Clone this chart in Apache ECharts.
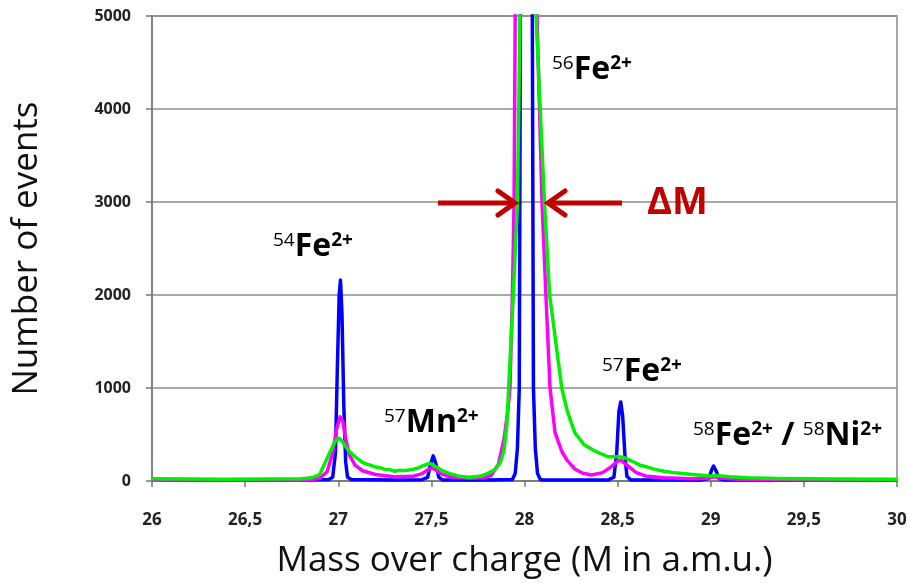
<!DOCTYPE html>
<html>
<head>
<meta charset="utf-8">
<script src="https://cdn.jsdelivr.net/npm/echarts@6/dist/echarts.min.js"></script>
<style>
html,body{margin:0;padding:0;background:#fff;}
#chart{width:909px;height:583px;}
</style>
</head>
<body>
<div id="chart"></div>
<script>
// ---- Data ----
const xTicks = [26, 26.5, 27, 27.5, 28, 28.5, 29, 29.5, 30];
const yTicks = [0, 1000, 2000, 3000, 4000, 5000];

const blueMass = [26.00,26.20,26.40,26.60,26.80,26.95,26.97,26.985,26.995,27.005,27.012,27.02,27.03,27.04,27.05,27.07,27.30,27.45,27.48,27.495,27.51,27.525,27.54,27.56,27.80,27.935,27.95,27.962,27.972,27.978,27.985,28.01,28.035,28.042,28.048,28.058,28.07,28.085,28.10,28.45,28.48,28.495,28.507,28.517,28.527,28.54,28.55,28.57,28.95,28.99,29.005,29.015,29.028,29.045,29.07,29.50,30.00];
const blueCounts = [15,12,14,12,14,15,40,300,1200,2000,2160,1800,800,200,40,15,12,14,40,180,270,180,40,12,12,15,80,350,1000,5000,12000,20000,12000,5000,1000,350,80,15,12,12,40,300,750,850,700,250,50,12,12,30,120,160,110,25,10,10,10];

const magentaMass = [26.00,26.30,26.60,26.85,26.90,26.94,26.97,26.99,27.01,27.025,27.04,27.06,27.09,27.13,27.20,27.30,27.40,27.45,27.48,27.50,27.52,27.55,27.60,27.70,27.78,27.82,27.86,27.89,27.91,27.922,27.935,27.944,27.95,27.96,28.00,28.05,28.067,28.094,28.115,28.137,28.164,28.20,28.228,28.27,28.31,28.36,28.42,28.47,28.50,28.52,28.55,28.60,28.65,28.75,28.90,28.98,29.02,29.06,29.15,29.30,29.60,30.00];
const magentaCounts = [12,10,12,14,30,100,300,550,690,640,450,280,170,110,70,45,50,80,120,140,125,80,45,30,35,60,180,450,750,1000,2000,3000,5000,8000,12000,8000,5000,3000,2000,1000,520,320,225,130,86,65,90,160,215,220,170,90,55,35,25,30,45,30,20,15,12,12];

const greenMass = [26.00,26.01,26.03,26.20,26.40,26.60,26.80,26.86,26.90,26.93,26.96,26.985,27.005,27.02,27.05,27.08,27.10,27.13,27.15,27.18,27.20,27.23,27.25,27.28,27.30,27.33,27.35,27.38,27.40,27.43,27.45,27.49,27.52,27.56,27.60,27.65,27.70,27.76,27.80,27.84,27.87,27.89,27.905,27.915,27.94,27.962,27.976,27.99,28.02,28.05,28.062,28.107,28.135,28.20,28.23,28.27,28.32,28.35,28.38,28.42,28.45,28.50,28.53,28.57,28.62,28.66,28.70,28.75,28.80,28.85,28.90,29.00,29.03,29.10,29.20,29.35,29.50,29.70,30.00];
const greenCounts = [25,45,25,22,20,22,25,35,70,200,330,430,460,430,340,280,245,200,185,165,150,140,125,120,105,115,110,118,125,140,160,190,160,110,80,50,40,50,80,120,200,330,600,1000,2000,3000,5000,8000,10000,8000,5000,3000,2000,1000,750,520,390,355,320,285,260,260,255,220,170,150,125,105,90,80,70,55,60,45,35,28,25,22,20];

const pairs = (xs, ys) => xs.map((x, i) => [x, ys[i]]);

const chart = echarts.init(document.getElementById('chart'), null, {renderer: 'canvas'});

const labelFont = '"Open Sans", "DejaVu Sans", sans-serif';
const gridColor = '#8c8c8c';

function ionRich(size, supSize) {
  return {
    sup: {fontSize: supSize, fontWeight: 'normal', fontFamily: labelFont, color: '#111', verticalAlign: 'top', lineHeight: size},
    supb: {fontSize: supSize, fontWeight: 'bold', fontFamily: labelFont, color: '#111', verticalAlign: 'top', lineHeight: size},
    main: {fontSize: size, fontWeight: 'bold', fontFamily: labelFont, color: '#111', lineHeight: size},
    sep: {fontSize: size, fontWeight: 'bold', fontFamily: labelFont, color: '#111', lineHeight: size}
  };
}

function ionText(x, y, text) {
  return {
    type: 'text', left: x, top: y, z: 100,
    style: {text: text, rich: ionRich(32, 19)}
  };
}

const arrowColor = '#c00000';

const option = {
  backgroundColor: '#ffffff',
  animation: false,
  grid: {left: 152, right: 12, top: 16, bottom: 102, containLabel: false, outerBoundsMode: 'none',
    show: true, borderColor: gridColor, borderWidth: 1.5, backgroundColor: 'transparent'},
  xAxis: {
    type: 'value', min: 26, max: 30, interval: 0.5,
    name: 'Mass over charge (M in a.m.u.)', nameLocation: 'middle', nameGap: 63,
    nameTextStyle: {fontSize: 35, fontFamily: labelFont, color: '#111'},
    axisLine: {show: true, onZero: false, lineStyle: {color: '#777', width: 1.5}},
    axisTick: {show: true, length: 6, lineStyle: {color: '#777', width: 1.5}},
    axisLabel: {margin: 31, fontSize: 17, fontWeight: 'bold', fontFamily: labelFont, color: '#222',
      formatter: v => String(v).replace('.', ',')},
    splitLine: {show: false}
  },
  yAxis: {
    type: 'value', min: 0, max: 5000, interval: 1000,
    name: 'Number of events', nameLocation: 'middle', nameGap: 107,
    nameTextStyle: {fontSize: 35, fontFamily: labelFont, color: '#111'},
    axisLine: {show: true, lineStyle: {color: '#777', width: 1.5}},
    axisTick: {show: true, length: 6, lineStyle: {color: '#777', width: 1.5}},
    axisLabel: {margin: 21, fontSize: 16, fontWeight: 'bold', fontFamily: labelFont, color: '#222',
      formatter: v => String(v)},
    splitLine: {show: true, lineStyle: {color: gridColor, width: 1.5}}
  },
  series: [
    {type: 'line', name: 'blue', data: pairs(blueMass, blueCounts), showSymbol: false, symbol: 'none', smooth: false, clip: true,
      lineStyle: {color: '#0000ff', width: 3.5, join: 'round'}, z: 3},
    {type: 'line', name: 'magenta', data: pairs(magentaMass, magentaCounts), showSymbol: false, symbol: 'none', smooth: false, clip: true,
      lineStyle: {color: '#ff00ff', width: 3.5, join: 'round'}, z: 4},
    {type: 'line', name: 'green', data: pairs(greenMass, greenCounts), showSymbol: false, symbol: 'none', smooth: false, clip: true,
      lineStyle: {color: '#00f000', width: 3.5, join: 'round'}, z: 5}
  ],
  graphic: [
    ionText(273, 231, '{sup|54}{main|Fe}{supb|2+}'),
    ionText(384, 407, '{sup|57}{main|Mn}{supb|2+}'),
    ionText(552, 54, '{sup|56}{main|Fe}{supb|2+}'),
    ionText(602, 356, '{sup|57}{main|Fe}{supb|2+}'),
    ionText(693, 420, '{sup|58}{main|Fe}{supb|2+}{sep| / }{sup|58}{main|Ni}{supb|2+}'),
    {type: 'text', left: 647, top: 184, z: 100,
      style: {text: 'ΔM', fontSize: 38, fontWeight: 'bold', fontFamily: labelFont, fill: arrowColor}},
    // left arrow
    {type: 'line', z: 100, shape: {x1: 438, y1: 203, x2: 514, y2: 203}, style: {stroke: arrowColor, lineWidth: 5}},
    {type: 'polyline', z: 100, shape: {points: [[498, 191], [515, 203], [498, 215]]}, style: {stroke: arrowColor, lineWidth: 5, fill: null, lineCap: 'round', lineJoin: 'miter'}},
    // right arrow
    {type: 'line', z: 100, shape: {x1: 622, y1: 203, x2: 549, y2: 203}, style: {stroke: arrowColor, lineWidth: 5}},
    {type: 'polyline', z: 100, shape: {points: [[565, 191], [548, 203], [565, 215]]}, style: {stroke: arrowColor, lineWidth: 5, fill: null, lineCap: 'round', lineJoin: 'miter'}}
  ]
};

chart.setOption(option);
</script>
</body>
</html>
